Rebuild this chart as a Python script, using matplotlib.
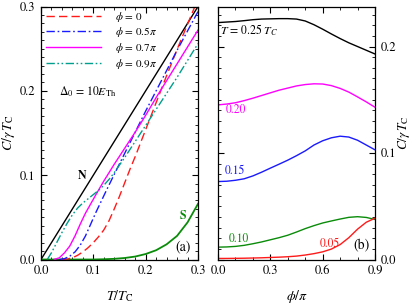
import matplotlib
matplotlib.use("Agg")
import matplotlib.pyplot as plt
from matplotlib.ticker import MultipleLocator

plt.rcParams['font.family'] = ['STIXGeneral', 'DejaVu Serif']
plt.rcParams['mathtext.fontset'] = 'stix'

# ---------------- Panel (a) data ----------------
T_N = [0.0, 0.3]
C_N = [0.0, 0.3]

T_S = [0.0, 0.1, 0.12, 0.14, 0.16, 0.18, 0.2, 0.22, 0.24, 0.26, 0.28, 0.3]
C_S = [0.0, 0.0, 0.0003, 0.0008, 0.0018, 0.0035, 0.0065, 0.011, 0.018, 0.028, 0.044, 0.066]

T_p0 = [0.04, 0.05, 0.06, 0.07, 0.08, 0.09, 0.10, 0.11, 0.12, 0.13, 0.14, 0.15, 0.16, 0.17, 0.18,
        0.20, 0.22, 0.24, 0.26, 0.28, 0.294]
C_p0 = [0.0, 0.0005, 0.002, 0.005, 0.009, 0.014, 0.02, 0.027, 0.035, 0.046, 0.06, 0.075, 0.091, 0.107,
        0.122, 0.154, 0.186, 0.218, 0.249, 0.279, 0.3]

T_p5 = [0.035, 0.045, 0.055, 0.065, 0.075, 0.085, 0.095, 0.105, 0.115, 0.125, 0.14, 0.16, 0.18,
        0.20, 0.22, 0.24, 0.26, 0.28, 0.30]
C_p5 = [0.0, 0.001, 0.004, 0.009, 0.017, 0.028, 0.042, 0.056, 0.069, 0.082, 0.101, 0.126, 0.151,
        0.176, 0.2, 0.224, 0.248, 0.271, 0.294]

T_p7 = [0.025, 0.035, 0.045, 0.055, 0.065, 0.075, 0.085, 0.095, 0.105, 0.12, 0.14, 0.16, 0.18,
        0.20, 0.22, 0.24, 0.26, 0.28, 0.30]
C_p7 = [0.0, 0.002, 0.008, 0.016, 0.028, 0.042, 0.055, 0.066, 0.077, 0.093, 0.113, 0.132, 0.151,
        0.171, 0.192, 0.212, 0.232, 0.252, 0.272]

T_p9 = [0.012, 0.02, 0.03, 0.04, 0.05, 0.06, 0.07, 0.08, 0.09, 0.10, 0.11, 0.12, 0.13, 0.14, 0.15,
        0.16, 0.18, 0.20, 0.22, 0.24, 0.26, 0.28, 0.30]
C_p9 = [0.0, 0.008, 0.02, 0.032, 0.043, 0.053, 0.061, 0.067, 0.072, 0.077, 0.082, 0.088, 0.095,
        0.103, 0.112, 0.121, 0.14, 0.159, 0.178, 0.197, 0.216, 0.236, 0.256]

legend_labels = [r'$\phi$ = 0', r'$\phi$ = 0.5$\pi$', r'$\phi$ = 0.7$\pi$', r'$\phi$ = 0.9$\pi$']

# ---------------- Panel (b) data ----------------
phi = [0.0, 0.05, 0.1, 0.15, 0.2, 0.25, 0.3, 0.35, 0.4, 0.45, 0.5, 0.55, 0.6, 0.65, 0.7,
       0.75, 0.8, 0.85, 0.9]
C_T25 = [0.2225, 0.223, 0.2235, 0.2243, 0.2252, 0.2258, 0.226, 0.2262, 0.2262, 0.2258, 0.224,
         0.2205, 0.2163, 0.2118, 0.2075, 0.2035, 0.2, 0.1965, 0.193]
C_T20 = [0.1452, 0.146, 0.1472, 0.1492, 0.1515, 0.154, 0.1565, 0.159, 0.161, 0.163, 0.1643,
         0.165, 0.1648, 0.1633, 0.1607, 0.1572, 0.1527, 0.148, 0.143]
C_T15 = [0.0732, 0.0735, 0.0744, 0.0758, 0.0785, 0.082, 0.0858, 0.0895, 0.0933, 0.0975, 0.102,
         0.1075, 0.1115, 0.1143, 0.1158, 0.115, 0.112, 0.1075, 0.103]
C_T10 = [0.0116, 0.0118, 0.0123, 0.0133, 0.0148, 0.0165, 0.0185, 0.0205, 0.0228, 0.0258, 0.029,
         0.0318, 0.0343, 0.0362, 0.038, 0.0396, 0.0402, 0.0395, 0.0376]
C_T05 = [0.001, 0.001, 0.0011, 0.0012, 0.0014, 0.0016, 0.0019, 0.0022, 0.0026, 0.0032, 0.0042,
         0.0055, 0.0072, 0.0098, 0.014, 0.0205, 0.0285, 0.035, 0.0388]

RED = '#ff1a1a'
BLUE = '#1a1aff'
MAG = '#ff00ff'
TEAL = '#009e8c'
GREEN = '#0a8c0a'

fig = plt.figure(figsize=(4.15, 3.06), dpi=100)
ax1 = fig.add_axes([41/415, 46.5/306, 157/415, 253/306])
ax2 = fig.add_axes([218/415, 46.5/306, 157/415, 253/306])

lw = 1.0
ax1.plot(T_N, C_N, color='black', lw=lw)
ax1.plot(T_S, C_S, color=GREEN, lw=1.3)
ax1.plot(T_p0, C_p0, color=RED, lw=lw, dashes=(6, 3), label=legend_labels[0])
ax1.plot(T_p5, C_p5, color=BLUE, lw=lw, dashes=(6, 2, 1.2, 2), label=legend_labels[1])
ax1.plot(T_p7, C_p7, color=MAG, lw=lw, label=legend_labels[2])
ax1.plot(T_p9, C_p9, color=TEAL, lw=lw, dashes=(6, 1.8, 1.2, 1.8, 1.2, 1.8), label=legend_labels[3])

ax1.set_xlim(0, 0.3)
ax1.set_ylim(0, 0.3)
ax1.xaxis.set_minor_locator(MultipleLocator(0.02))
ax1.yaxis.set_minor_locator(MultipleLocator(0.01))
ax1.set_xticks([0.0, 0.1, 0.2, 0.3])
ax1.set_xticklabels(['0.0', '0.1', '0.2', '0.3'])
ax1.set_yticks([0.0, 0.1, 0.2, 0.3])
ax1.set_yticklabels(['0.0', '0.1', '0.2', '0.3'])
ax1.tick_params(which='both', direction='in', top=True, right=True, labelsize=9)
ax1.tick_params(which='major', length=4, width=0.8, pad=4)
ax1.tick_params(which='minor', length=2, width=0.6)
ax1.set_xlabel(r'$T/T_{\rm C}$', fontsize=10, labelpad=8)
ax1.set_ylabel(r'$C/\gamma\,T_{\rm C}$', fontsize=10, labelpad=2)

leg = ax1.legend(loc='upper left', bbox_to_anchor=(0.03, 0.988), frameon=False, fontsize=8,
                 handlelength=5.0, handletextpad=1.2, labelspacing=0.15, borderpad=0,
                 borderaxespad=0)

ax1.text(0.035, 0.195, r'$\Delta_0$ = 10$E_{\rm Th}$', fontsize=8.5)
ax1.text(0.078, 0.096, 'N', fontsize=8.5, fontweight='bold', ha='center')
ax1.text(0.272, 0.048, 'S', fontsize=8.5, fontweight='bold', color=GREEN, ha='center')
ax1.text(0.272, 0.011, '(a)', fontsize=10, ha='center')

# Panel (b)
ax2.plot(phi, C_T25, color='black', lw=lw)
ax2.plot(phi, C_T20, color=MAG, lw=lw)
ax2.plot(phi, C_T15, color=BLUE, lw=lw)
ax2.plot(phi, C_T10, color=GREEN, lw=lw)
ax2.plot(phi, C_T05, color=RED, lw=lw)

ax2.set_xlim(0, 0.9)
ax2.set_ylim(0, 0.2376)
ax2.set_xticks([0.0, 0.3, 0.6, 0.9])
ax2.set_xticklabels(['0.0', '0.3', '0.6', '0.9'])
ax2.xaxis.set_minor_locator(MultipleLocator(0.1))
ax2.set_yticks([0.0, 0.1, 0.2])
ax2.set_yticklabels(['0.0', '0.1', '0.2'])
ax2.yaxis.set_minor_locator(MultipleLocator(0.01))
ax2.yaxis.tick_right()
ax2.yaxis.set_label_position('right')
ax2.tick_params(which='both', direction='in', top=True, left=True, right=True,
                labelleft=False, labelright=True, labelsize=9)
ax2.tick_params(which='major', length=4, width=0.8, pad=4)
ax2.tick_params(which='minor', length=2, width=0.6)
ax2.set_xlabel(r'$\phi/\pi$', fontsize=10, labelpad=8)
ax2.set_ylabel(r'$C/\gamma\,T_{\rm C}$', fontsize=9.5, labelpad=0)

ax2.text(0.01, 0.211, r'$T$ = 0.25 $T_C$', fontsize=8.5)
ax2.text(0.045, 0.138, '0.20', fontsize=8.5, color=MAG)
ax2.text(0.04, 0.080, '0.15', fontsize=8.5, color=BLUE)
ax2.text(0.06, 0.0165, '0.10', fontsize=8.5, color=GREEN)
ax2.text(0.585, 0.0115, '0.05', fontsize=8.5, color=RED)
ax2.text(0.82, 0.0095, '(b)', fontsize=10, ha='center')

for ax in (ax1, ax2):
    for s in ax.spines.values():
        s.set_linewidth(0.9)

fig.savefig('out.png', dpi=100)
